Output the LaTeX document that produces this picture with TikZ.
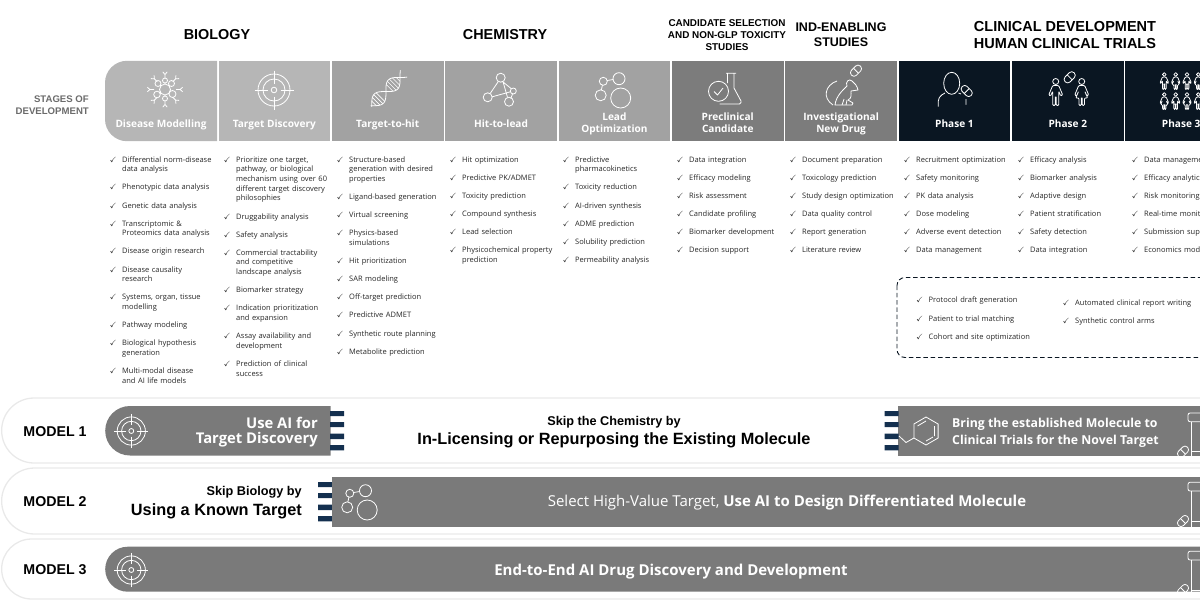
\documentclass[tikz,border=0pt]{standalone}
\usepackage{amssymb}
\usepackage{fontspec}
\setmainfont{Open Sans}
\newfontfamily\headfont{Liberation Sans}
\usetikzlibrary{positioning,shapes.misc}

\definecolor{stagelight}{HTML}{B6B6B6}
\definecolor{stagemid}{HTML}{A2A2A2}
\definecolor{stagedark}{HTML}{7C7C7C}
\definecolor{navy}{HTML}{0A1622}
\definecolor{stripe}{HTML}{14304F}
\definecolor{bargray}{HTML}{7A7A7A}
\definecolor{capsule}{HTML}{E9E9E9}
\definecolor{itemtext}{HTML}{262626}

\newcommand{\fs}[1]{\fontsize{#1}{1.2\dimexpr#1pt\relax}\selectfont}

\tikzset{
  stage/.style={minimum width=111.6pt,minimum height=80pt,inner sep=0pt},
  stagelabel/.style={text=white,font=\bfseries\fontsize{10.1}{12}\selectfont,align=center,inner sep=0pt,
    execute at begin node={\strut},execute at end node={\strut}},
  head/.style={font=\headfont\bfseries\fs{14.4},align=center,inner sep=0pt},
  item/.style={font=\fontsize{7.5}{9.7}\selectfont,text=itemtext,text width=108pt,align=left,inner sep=0pt,anchor=north west,
    execute at begin node={\leavevmode\llap{\checkmark\hspace{5.5pt}}\strut},execute at end node={\strut}},
  under/.style={below=8pt of #1.south west,anchor=north west},
  shell/.style={rounded rectangle,draw=capsule,line width=1.3pt,minimum width=1500pt,anchor=west,inner sep=0pt},
  bar/.style={fill=bargray,inner sep=0pt,anchor=north west},
  roundbar/.style={bar,rounded rectangle,rounded rectangle east arc=none,anchor=west},
  icon/.style={draw=white,line width=.8pt,line join=round},
  modelname/.style={head,font=\headfont\bfseries\fs{14.2}},
  bartext/.style={text=white,font=\bfseries\fs{14.8},inner sep=0pt},
  blacktext/.style={font=\headfont\bfseries\fs{16.3},inner sep=0pt},
  smallblack/.style={font=\headfont\bfseries\fs{12.7},inner sep=0pt},
  % icons
  target icon/.pic={
    \draw[icon] (0,0) circle [radius=16] (0,0) circle [radius=11] (0,0) circle [radius=2.8];
    \draw[icon] (-19.5,0) -- (-6.5,0) (6.5,0) -- (19.5,0) (0,-19.5) -- (0,-6.5) (0,6.5) -- (0,19.5);
  },
  cell icon/.pic={
    \draw[icon] (0,0) circle [radius=5.5] (-7,-6) circle [radius=3] (6.5,-6) circle [radius=3]
      (-8,5) circle [radius=3.3] (7.5,4.5) circle [radius=3.5] (0,9) circle [radius=2.5] (0,-9) circle [radius=2.5];
    \foreach \a in {0,45,...,315}
      \draw[icon] (\a:11) -- (\a:15) -- ++(\a+40:3.5) (\a:15) -- ++(\a-40:3.5);
  },
  dna icon/.pic={
    \begin{scope}[rotate=45]
      \draw[icon] plot[domain=-23:23,samples=40,smooth] (\x,{6.5*sin(9*\x+20)});
      \draw[icon] plot[domain=-23:23,samples=40,smooth] (\x,{-6.5*sin(9*\x+20)});
      \foreach \x in {-19,-16,-13,-10,3,6,9,12,15,18}
        \draw[icon,line width=.6pt] (\x,{6.5*sin(9*\x+20)}) -- (\x,{-6.5*sin(9*\x+20)});
    \end{scope}
  },
  network icon/.pic={
    \draw[icon] (-.3,-12.3) circle [radius=4.5] (-13.3,7.3) circle [radius=4.5]
      (8,11.7) circle [radius=4.5] (12.3,1) circle [radius=3];
    \draw[icon] (-2.7,-8.5) -- (-10.8,3.5) (2,-8.4) -- (6.5,7.4) (1.7,-8.3) -- (10.3,-1.3)
      (-8.8,6.8) -- (9.4,1.8) (9.8,8.5) -- (11.5,4);
  },
  lead icon/.pic={
    \draw[icon] (-6.7,-8.7) circle [radius=4] (9,-11.3) circle [radius=6]
      (-9.3,5.3) circle [radius=5.5] (10.7,8) circle [radius=10];
    \draw[icon] (-2.8,-9.5) -- (3.2,-10.5) (-7.6,-4.8) -- (-8.6,-.2);
  },
  flask icon/.pic={
    \draw[icon] (-14,1.3) circle [radius=10];
    \draw[icon] (-18.5,1.5) -- (-15,5) -- (-9.5,-2);
    \draw[icon] (-6.5,-16.7) -- (3.5,-16.7) (-5,-16.7) -- (-5,-7) (1.5,-16.7) -- (1.5,-2) -- (8.5,11)
      [rounded corners=1.5] -- (8.5,14) -- (-13,14);
  },
  rat icon/.pic={
    \draw[icon] (-8,15) .. controls (-19,8) and (-16,-5) .. (-4,-9);
    \draw[icon] (-6,15) .. controls (-5,6) and (2,0) .. (6,-4) .. controls (4,-8) and (8,-12) .. (11,-9)
      .. controls (14,-7) and (16,-4) .. (17,0) -- (10,1) .. controls (10,5) and (11,8) .. (7,10)
      -- (12,13) -- (11,15) -- cycle;
    \draw[icon] (1,15) -- (3,9) (5,15) -- (6,10);
  },
  pill icon/.pic={
    \draw[icon,rounded corners=3.2] (-6.3,-3.5) rectangle (6.3,3.5);
    \draw[icon] (0,-3.5) -- (0,3.5);
  },
  man icon/.pic={
    \draw[icon] (0,-10.5) circle [radius=3];
    \draw[icon,rounded corners=1] (-3,-6.5) -- (3,-6.5) -- (7,3) -- (5,4) -- (3,-1) -- (3,13.5) -- (.5,13.5)
      -- (.5,5) -- (-.5,5) -- (-.5,13.5) -- (-3,13.5) -- (-3,-1) -- (-5,4) -- (-7,3) -- cycle;
  },
  woman icon/.pic={
    \draw[icon] (0,-10.5) circle [radius=3];
    \draw[icon,rounded corners=1] (-3,-6.5) -- (3,-6.5) -- (7,3) -- (5,4) -- (3,-1) -- (6,6) -- (2.7,6) -- (2.7,13.5)
      -- (.5,13.5) -- (.5,6) -- (-.5,6) -- (-.5,13.5) -- (-2.7,13.5) -- (-2.7,6) -- (-6,6) -- (-3,-1)
      -- (-5,4) -- (-7,3) -- cycle;
  },
  vial icon/.pic={
    \draw[icon,rounded corners=2] (5,-38.7) rectangle (30,-30);
    \draw[icon] (8.7,-30) -- (8.7,8) (8.7,0) -- (30,0);
    \pic[rotate=45] at (0,0) {pill icon};
  },
  notch/.pic={
    \fill[stripe] (0,0) rectangle (14,5.2) (0,11) rectangle (14,16.2) (0,22.6) rectangle (14,28) (0,34.2) rectangle (14,39.4);
  },
}

\begin{document}
\begin{tikzpicture}[x=1pt,y=-1pt]
  \useasboundingbox (0,0) rectangle (1200,600);
  \clip (0,0) rectangle (1200,600);

  % stages
  \begin{scope}[on grid,node distance=113.35pt]
    \node[stage] (s_1) at (161,101) {};
    \node[stage,fill=stagelight] (s_2) [right=of s_1] {};
    \node[stage,fill=stagemid] (s_3) [right=of s_2] {};
    \node[stage,fill=stagemid] (s_4) [right=of s_3] {};
    \node[stage,fill=stagemid] (s_5) [right=of s_4] {};
    \node[stage,fill=stagedark] (s_6) [right=of s_5] {};
    \node[stage,fill=stagedark] (s_7) [right=of s_6] {};
    \node[stage,fill=navy] (s_8) [right=of s_7] {};
    \node[stage,fill=navy] (s_9) [right=of s_8] {};
    \node[stage,fill=navy] (s_10) [right=of s_9] {};
    \fill[stagelight,rounded corners=22pt] (s_1.south east) -- (s_1.south west) -- (s_1.north west) [sharp corners] -- (s_1.north east) -- cycle;
    \node[stagelabel] (l_1) [above=16.3pt of s_1.south,anchor=center] {Disease Modelling};
    \node[stagelabel] (l_2) [above=16.3pt of s_2.south,anchor=center] {Target Discovery};
    \node[stagelabel] (l_3) [above=16.3pt of s_3.south,anchor=center] {Target-to-hit};
    \node[stagelabel] (l_4) [above=16.3pt of s_4.south,anchor=center] {Hit-to-lead};
    \node[stagelabel] (l_5) [above=16.3pt of s_5.south,anchor=center] {Lead\\Optimization};
    \node[stagelabel] (l_6) [above=16.3pt of s_6.south,anchor=center] {Preclinical\\Candidate};
    \node[stagelabel] (l_7) [above=16.3pt of s_7.south,anchor=center] {Investigational\\New Drug};
    \node[stagelabel] (l_8) [above=16.3pt of s_8.south,anchor=center] {Phase 1};
    \node[stagelabel] (l_9) [above=16.3pt of s_9.south,anchor=center] {Phase 2};
    \node[stagelabel] (l_10) [above=16.3pt of s_10.south,anchor=center] {Phase 3};
  \end{scope}

  % stage icons
  \pic at (165,89.5) {cell icon};
  \pic at (274,90) {target icon};
  \pic at (387.5,90) {dna icon};
  \pic at (501,90) {network icon};
  \pic at (610,90) {lead icon};
  \pic at (732.5,90) {flask icon};
  \pic at (841,90) {rat icon};
  \pic[rotate=45] at (856,70.7) {pill icon};
  \draw[icon] (951.7,83.3) ellipse [x radius=8,y radius=11];
  \draw[icon,rounded corners=4] (938.3,106.7) -- (938.3,97) -- (945,93) (958.5,93) -- (961,94) (966,97) -- (966,106.7) -- cycle;
  \pic[rotate=-45] at (966.7,91) {pill icon};
  \pic at (1055.7,92) {man icon};
  \pic at (1081.7,92) {woman icon};
  \pic[rotate=45] at (1069.7,77.3) {pill icon};
  \pic[scale=.62] at (1164.3,81) {man icon};
  \pic[scale=.62] at (1175.7,81) {woman icon};
  \pic[scale=.62] at (1187,81) {man icon};
  \pic[scale=.62] at (1198.3,81) {woman icon};
  \pic[scale=.62] at (1164.3,101) {woman icon};
  \pic[scale=.62] at (1175.7,101) {man icon};
  \pic[scale=.62] at (1187,101) {woman icon};
  \pic[scale=.62] at (1198.3,101) {man icon};

  % headings
  \node[head] (h_bio) at (217,35) {BIOLOGY};
  \node[head] (h_chem) at (505,35) {CHEMISTRY};
  \node[head,font=\headfont\bfseries\fontsize{9.9}{12}\selectfont] (h_cand) at (727,35) {CANDIDATE SELECTION\\AND NON-GLP TOXICITY\\STUDIES};
  \node[head,font=\headfont\bfseries\fontsize{12.5}{15}\selectfont] (h_ind) at (841,35) {IND-ENABLING\\STUDIES};
  \node[head,font=\headfont\bfseries\fontsize{14.5}{17.5}\selectfont] (h_clin) at (1065,35) {CLINICAL DEVELOPMENT\\HUMAN CLINICAL TRIALS};
  \node[head,font=\headfont\bfseries\fontsize{9.6}{12}\selectfont,text=black!58,align=right,anchor=east] (h_stages) at (89,105) {STAGES OF\\DEVELOPMENT};

  % disease modelling
  \node[item] (dm_1) at (122,155.2) {Differential norm-disease\\data analysis};
  \node[item,under=dm_1] (dm_2) {Phenotypic data analysis};
  \node[item,under=dm_2] (dm_3) {Genetic data analysis};
  \node[item,under=dm_3] (dm_4) {Transcriptomic \&\\Proteomics data analysis};
  \node[item,under=dm_4] (dm_5) {Disease origin research};
  \node[item,under=dm_5] (dm_6) {Disease causality\\research};
  \node[item,under=dm_6] (dm_7) {Systems, organ, tissue\\modelling};
  \node[item,under=dm_7] (dm_8) {Pathway modeling};
  \node[item,under=dm_8] (dm_9) {Biological hypothesis\\generation};
  \node[item,under=dm_9] (dm_10) {Multi-modal disease\\and AI life models};
  % target discovery
  \node[item] (td_1) at (236,155.2) {Prioritize one target,\\pathway, or biological\\mechanism using over 60\\different target discovery\\philosophies};
  \node[item,under=td_1] (td_2) {Druggability analysis};
  \node[item,under=td_2] (td_3) {Safety analysis};
  \node[item,under=td_3] (td_4) {Commercial tractability\\and competitive\\landscape analysis};
  \node[item,under=td_4] (td_5) {Biomarker strategy};
  \node[item,under=td_5] (td_6) {Indication prioritization\\and expansion};
  \node[item,under=td_6] (td_7) {Assay availability and\\development};
  \node[item,under=td_7] (td_8) {Prediction of clinical\\success};
  % target-to-hit
  \node[item] (th_1) at (349,155.2) {Structure-based\\generation with desired\\properties};
  \node[item,under=th_1] (th_2) {Ligand-based generation};
  \node[item,under=th_2] (th_3) {Virtual screening};
  \node[item,under=th_3] (th_4) {Physics-based\\simulations};
  \node[item,under=th_4] (th_5) {Hit prioritization};
  \node[item,under=th_5] (th_6) {SAR modeling};
  \node[item,under=th_6] (th_7) {Off-target prediction};
  \node[item,under=th_7] (th_8) {Predictive ADMET};
  \node[item,under=th_8] (th_9) {Synthetic route planning};
  \node[item,under=th_9] (th_10) {Metabolite prediction};
  % hit-to-lead
  \node[item] (hl_1) at (462,155.2) {Hit optimization};
  \node[item,under=hl_1] (hl_2) {Predictive PK/ADMET};
  \node[item,under=hl_2] (hl_3) {Toxicity prediction};
  \node[item,under=hl_3] (hl_4) {Compound synthesis};
  \node[item,under=hl_4] (hl_5) {Lead selection};
  \node[item,under=hl_5] (hl_6) {Physicochemical property\\prediction};
  % lead optimization
  \node[item] (lo_1) at (575,155.2) {Predictive\\pharmacokinetics};
  \node[item,under=lo_1] (lo_2) {Toxicity reduction};
  \node[item,under=lo_2] (lo_3) {AI-driven synthesis};
  \node[item,under=lo_3] (lo_4) {ADME prediction};
  \node[item,under=lo_4] (lo_5) {Solubility prediction};
  \node[item,under=lo_5] (lo_6) {Permeability analysis};
  % preclinical
  \node[item] (pc_1) at (689,155.2) {Data integration};
  \node[item,under=pc_1] (pc_2) {Efficacy modeling};
  \node[item,under=pc_2] (pc_3) {Risk assessment};
  \node[item,under=pc_3] (pc_4) {Candidate profiling};
  \node[item,under=pc_4] (pc_5) {Biomarker development};
  \node[item,under=pc_5] (pc_6) {Decision support};
  % ind
  \node[item] (in_1) at (802,155.2) {Document preparation};
  \node[item,under=in_1] (in_2) {Toxicology prediction};
  \node[item,under=in_2] (in_3) {Study design optimization};
  \node[item,under=in_3] (in_4) {Data quality control};
  \node[item,under=in_4] (in_5) {Report generation};
  \node[item,under=in_5] (in_6) {Literature review};
  % phase 1
  \node[item] (pa_1) at (916,155.2) {Recruitment optimization};
  \node[item,under=pa_1] (pa_2) {Safety monitoring};
  \node[item,under=pa_2] (pa_3) {PK data analysis};
  \node[item,under=pa_3] (pa_4) {Dose modeling};
  \node[item,under=pa_4] (pa_5) {Adverse event detection};
  \node[item,under=pa_5] (pa_6) {Data management};
  % phase 2
  \node[item] (pb_1) at (1030,155.2) {Efficacy analysis};
  \node[item,under=pb_1] (pb_2) {Biomarker analysis};
  \node[item,under=pb_2] (pb_3) {Adaptive design};
  \node[item,under=pb_3] (pb_4) {Patient stratification};
  \node[item,under=pb_4] (pb_5) {Safety detection};
  \node[item,under=pb_5] (pb_6) {Data integration};
  % phase 3
  \node[item] (pg_1) at (1144,155.2) {Data management};
  \node[item,under=pg_1] (pg_2) {Efficacy analytics};
  \node[item,under=pg_2] (pg_3) {Risk monitoring};
  \node[item,under=pg_3] (pg_4) {Real-time monitoring};
  \node[item,under=pg_4] (pg_5) {Submission support};
  \node[item,under=pg_5] (pg_6) {Economics modeling};

  % dashed box
  \draw[navy,dashed,line width=.9pt,dash pattern=on 4.5pt off 2.8pt,rounded corners=8pt] (897,277.5) rectangle (1260,357.5);
  \node[item,text width=130pt] (bx_1) at (928.5,296) {Protocol draft generation};
  \node[item,text width=130pt,under=bx_1] (bx_2) {Patient to trial matching};
  \node[item,text width=130pt,under=bx_2] (bx_3) {Cohort and site optimization};
  \node[item,text width=130pt] (bx_4) at (1075,298.3) {Automated clinical report writing};
  \node[item,text width=130pt,under=bx_4] (bx_5) {Synthetic control arms};

  % model 1
  \node[shell,minimum height=65pt] (m_1) at (1,430.5) {};
  \node[modelname] (n_1) at (55,431.5) {MODEL 1};
  \node[roundbar,minimum width=225.5pt,minimum height=49.5pt] (b_1) at (105,430.75) {};
  \pic[scale=.88] at (131.3,431) {target icon};
  \pic at (330,411) {notch};
  \node[bartext,anchor=east] (t_1) at (318,422.5) {Use AI for};
  \node[bartext,anchor=east] (t_2) at (318,440) {Target Discovery};
  \node[smallblack] (t_3) at (614,422.7) {Skip the Chemistry by};
  \node[blacktext] (t_4) at (614,440.3) {In-Licensing or Repurposing the Existing Molecule};
  \node[bar,minimum width=320pt,minimum height=50pt] (b_2) at (898,406) {};
  \pic at (884.5,411) {notch};
  \draw[icon] (938.1,424) -- (926,417) -- (913.9,424) -- (913.9,438) -- (926,445) -- (938.1,438) -- cycle;
  \draw[icon] (934.5,426) -- (934.5,436) (926,421) -- (917.5,426) (926,441) -- (933,437) (913.9,438) -- (906,442.5) -- (899,436);
  \node[bartext,font=\bfseries\fs{12.3},anchor=west] (t_5) at (952,424) {Bring the established Molecule to};
  \node[bartext,font=\bfseries\fs{12.3},anchor=west] (t_6) at (952,441) {Clinical Trials for the Novel Target};
  \begin{scope}
    \clip (b_2.south west) rectangle (b_2.north east);
    \pic at (1183,451.7) {vial icon};
  \end{scope}

  % model 2
  \node[shell,minimum height=66pt] (m_2) at (1,501) {};
  \node[modelname] (n_2) at (55,502) {MODEL 2};
  \node[smallblack,anchor=east] (t_7) at (302,492.7) {Skip Biology by};
  \node[blacktext,anchor=east] (t_8) at (302,511) {Using a Known Target};
  \pic at (318,482) {notch};
  \node[bar,minimum width=900pt,minimum height=50pt] (b_3) at (331.5,476.5) {};
  \pic at (356.5,502) {lead icon};
  \node[bartext,font=\fs{15}] (t_9) at (787,503) {Select High-Value Target, \textbf{Use AI to Design Differentiated Molecule}};
  \begin{scope}
    \clip (b_3.south west) rectangle (b_3.north east);
    \pic at (1183,521) {vial icon};
  \end{scope}

  % model 3
  \node[shell,minimum height=60pt] (m_3) at (1,569) {};
  \node[modelname] (n_3) at (55,570) {MODEL 3};
  \node[roundbar,minimum width=1200pt,minimum height=45pt] (b_4) at (105,569.2) {};
  \pic[scale=.88] at (131.3,570) {target icon};
  \node[bartext,font=\bfseries\fs{15}] (t_10) at (671,572) {End-to-End AI Drug Discovery and Development};
  \begin{scope}
    \clip (b_4.south west) rectangle (b_4.north east);
    \pic at (1183,590) {vial icon};
  \end{scope}
\end{tikzpicture}
\end{document}
